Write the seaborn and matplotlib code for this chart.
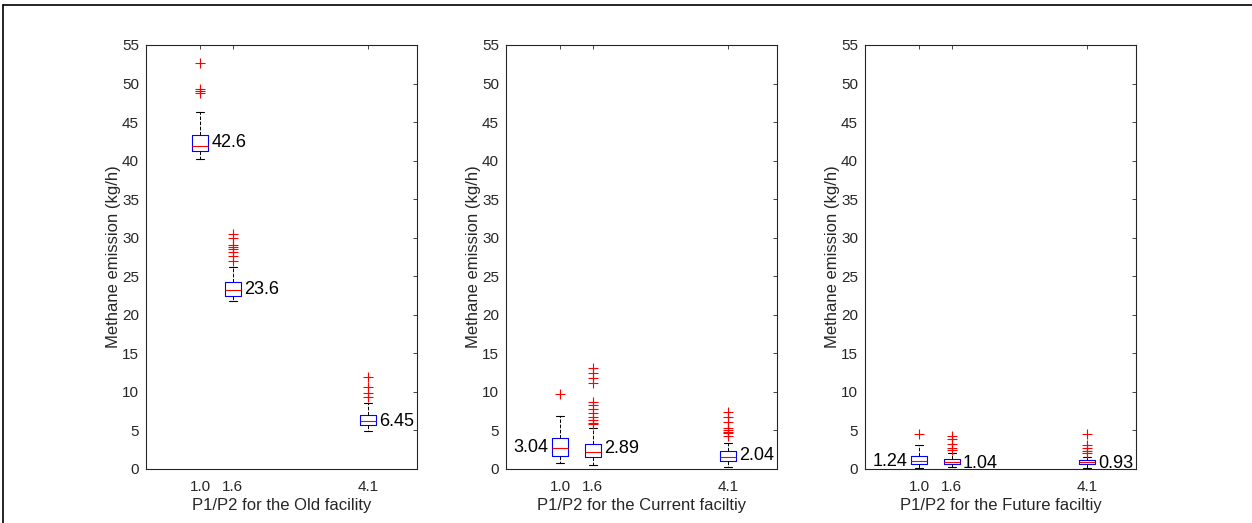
import matplotlib
matplotlib.use('Agg')
import matplotlib.pyplot as plt
import seaborn as sns
import pandas as pd
from matplotlib.lines import Line2D

# P1/P2 pressure ratios (box positions) and their tick labels
ratios = [1.0, 1.6, 4.1]
ratio_labels = ['1.0', '1.6', '4.1']
facilities = ['Old', 'Current', 'Future']
xlabels = ['P1/P2 for the Old facility',
           'P1/P2 for the Current faciltiy',
           'P1/P2 for the Future faciltiy']

old_10 = [40.25, 40.6, 40.9, 41.0, 41.2, 41.3, 41.5, 41.6, 41.7, 41.8, 41.9,
          42.1, 42.4, 42.7, 43.0, 43.3, 46.3, 48.8, 49.0, 49.3, 52.7]
old_16 = [21.8, 21.9, 22.0, 22.1, 22.15, 22.2, 22.3, 22.35, 22.4, 22.45,
          22.5, 22.6, 22.7, 22.8, 22.9, 23.0, 23.1, 23.15, 23.2,
          23.3, 23.4, 23.5, 23.6, 23.7, 23.8, 23.9, 24.0, 24.2,
          26.2, 27.0, 27.6, 28.1, 28.5, 28.8, 29.1, 30.0, 30.5]
old_41 = [4.97, 5.2, 5.35, 5.5, 5.6, 5.7, 5.8, 5.95, 6.05, 6.15, 6.23,
          6.4, 6.6, 6.75, 6.9, 7.05, 8.6, 9.3, 9.8, 10.7, 11.9]

cur_10 = [0.74, 1.2, 1.5, 1.69, 2.1, 2.4, 2.72, 3.1, 3.5, 3.98, 5.2, 6.87, 9.73]
cur_16 = [0.52, 0.6, 0.7, 0.8, 0.9, 1.0, 1.1, 1.15, 1.2, 1.3, 1.35, 1.4, 1.45,
          1.52, 1.55, 1.6, 1.65, 1.7, 1.75, 1.8, 1.9, 1.95, 2.0, 2.05, 2.1, 2.2,
          2.25, 2.3, 2.35, 2.4, 2.5, 2.55, 2.6, 2.7, 2.8, 2.9, 3.0, 3.05, 3.1,
          3.2, 5.3, 5.84, 6.0, 6.36, 6.78, 7.22, 7.74, 8.3, 8.73,
          11.1, 11.76, 12.5, 13.06]
cur_41 = [0.3, 0.45, 0.6, 0.7, 0.8, 0.9, 0.95, 1.0, 1.05, 1.08,
          1.12, 1.2, 1.25, 1.3, 1.35, 1.4, 1.5, 1.55, 1.6,
          1.65, 1.7, 1.8, 1.9, 2.0, 2.1, 2.2, 2.25, 2.33,
          3.4, 4.28, 4.63, 4.84, 5.06, 5.28, 6.14, 6.78, 7.43]

fut_10 = [0.1, 0.3, 0.45, 0.6, 0.8, 0.9, 1.04, 1.2, 1.45, 1.69, 2.4, 3.11, 4.54]
fut_16 = [0.3, 0.4, 0.48, 0.55, 0.6, 0.62, 0.65, 0.7, 0.75, 0.8, 0.85, 0.88,
          0.91, 0.95, 1.0, 1.1, 1.15, 1.2, 1.3,
          2.1, 2.46, 2.68, 3.24, 3.85, 4.28]
fut_41 = [0.17, 0.3, 0.4, 0.45, 0.5, 0.55, 0.6, 0.65, 0.7, 0.75, 0.8, 0.84,
          0.87, 0.9, 0.95, 1.0, 1.05, 1.1, 1.17,
          1.6, 2.1, 2.37, 2.68, 3.11, 4.54]

# mean values written beside each box
mean_old = [42.6, 23.6, 6.45]
mean_cur = [3.04, 2.89, 2.04]
mean_fut = [1.24, 1.04, 0.93]
mean_text = [['42.6', '23.6', '6.45'], ['3.04', '2.89', '2.04'], ['1.24', '1.04', '0.93']]
label_side = [['r', 'r', 'r'], ['l', 'r', 'r'], ['l', 'r', 'r']]

samples = [[old_10, old_16, old_41], [cur_10, cur_16, cur_41], [fut_10, fut_16, fut_41]]
means = [mean_old, mean_cur, mean_fut]

rows = []
for fac, group in zip(facilities, samples):
    for r, vals in zip(ratios, group):
        for v in vals:
            rows.append({'facility': fac, 'ratio': r, 'emission': v})
df = pd.DataFrame(rows)

sns.set_style('white')
plt.rcParams['font.family'] = ['Liberation Sans', 'DejaVu Sans']

dark = (0.15, 0.15, 0.15)
fig = plt.figure(figsize=(12.52, 5.23), dpi=100)
lefts = [146, 506, 865]
box_w = 0.48  # relative to the 0.6 spacing -> ~0.29 data units

for i, fac in enumerate(facilities):
    ax = fig.add_axes([lefts[i] / 1252, 1 - 469 / 523, 271 / 1252, 424 / 523])
    sub = df[df['facility'] == fac]
    sns.boxplot(data=sub, x='ratio', y='emission', native_scale=True,
                width=box_w, fill=False, whis=1.5, linewidth=0.8, ax=ax,
                boxprops=dict(color='blue', linewidth=0.8),
                medianprops=dict(color='red', linewidth=0.8),
                whiskerprops=dict(color='black', linestyle='--', linewidth=0.7),
                capprops=dict(color='black', linewidth=0.8),
                flierprops=dict(marker='+', markeredgecolor='red',
                                markerfacecolor='red', markersize=7,
                                markeredgewidth=0.8))
    half = 0.6 * box_w / 2
    for r, m, t, side in zip(ratios, means[i], mean_text[i], label_side[i]):
        if side == 'r':
            ax.annotate(t, (r + half, m), xytext=(2.5, -1.5), textcoords='offset points',
                        ha='left', va='center', fontsize=13, color='black')
        else:
            ax.annotate(t, (r - half, m), xytext=(-3, -1.5), textcoords='offset points',
                        ha='right', va='center', fontsize=13, color='black')

    ax.set_xlim(0, 5)
    ax.set_ylim(0, 55)
    ax.set_xticks(ratios)
    ax.set_xticklabels(ratio_labels)
    ax.set_yticks(range(0, 56, 5))
    ax.tick_params(direction='in', top=True, right=True, length=3,
                   labelsize=11, colors=dark, width=0.6)
    ax.tick_params(axis='x', pad=8)
    ax.tick_params(axis='y', pad=5)
    for s in ax.spines.values():
        s.set_visible(True)
        s.set_color(dark)
        s.set_linewidth(0.8)
    ax.set_xlabel(xlabels[i], fontsize=12, color=dark, labelpad=3)
    ax.set_ylabel('Methane emission (kg/h)', fontsize=12, color=dark, labelpad=1)

# thin frame of the original screenshot
fig.add_artist(Line2D([3 / 1252, 3 / 1252], [0, 1 - 5 / 523], color='black', lw=1.2))
fig.add_artist(Line2D([3 / 1252, 1], [1 - 5 / 523, 1 - 5 / 523], color='black', lw=1.2))

fig.savefig('out.png', dpi=100)
